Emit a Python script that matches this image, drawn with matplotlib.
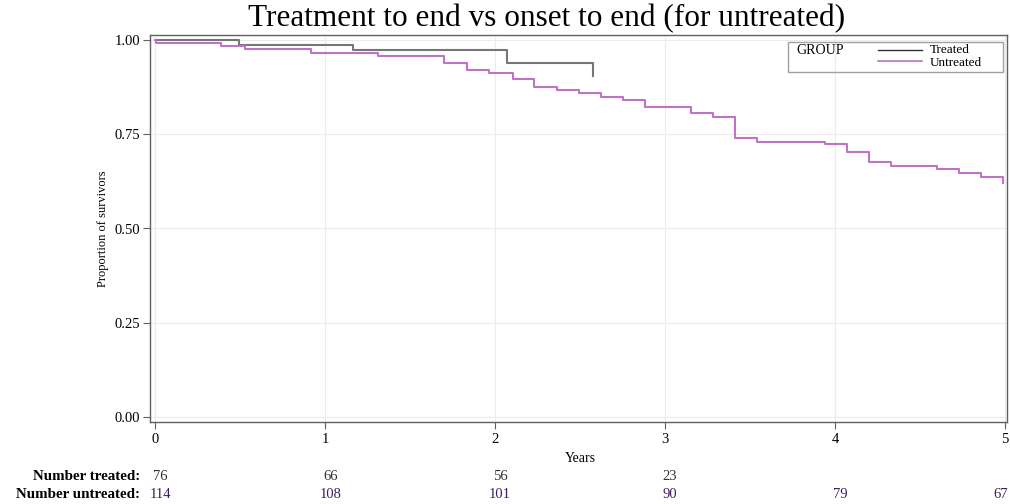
import matplotlib
matplotlib.use("Agg")
import matplotlib.pyplot as plt
import matplotlib.transforms as mtransforms
from matplotlib.lines import Line2D
from matplotlib.patches import Rectangle

plt.rcParams['font.family'] = ['Liberation Serif', 'DejaVu Serif']

# ---- data ----
treated_times = [0.0, 0.496, 1.167, 2.07, 2.575]
treated_surv = [1.0, 0.987, 0.972, 0.939, 0.905]

untreated_times = [0.0, 0.005, 0.386, 0.526, 0.916, 1.314, 1.702, 1.833, 1.967,
                   2.104, 2.231, 2.363, 2.494, 2.624, 2.751, 2.884, 3.151, 3.281,
                   3.412, 3.543, 3.941, 4.071, 4.2, 4.331, 4.598, 4.729, 4.861, 4.99]
untreated_surv = [1.0, 0.991, 0.985, 0.976, 0.966, 0.958, 0.939, 0.921, 0.912,
                  0.896, 0.876, 0.867, 0.859, 0.849, 0.841, 0.821, 0.805, 0.795,
                  0.739, 0.730, 0.723, 0.702, 0.676, 0.667, 0.658, 0.648, 0.637, 0.620]

x_ticks = [0, 1, 2, 3, 4, 5]
y_ticks = [0.0, 0.25, 0.5, 0.75, 1.0]
y_ticklabels = ["0.00", "0.25", "0.50", "0.75", "1.00"]

risk_times_treated = [0, 1, 2, 3]
risk_treated = [76, 66, 56, 23]
risk_times_untreated = [0, 1, 2, 3, 4, 5]
risk_untreated = [114, 108, 101, 90, 79, 67]

title = "Treatment to end vs onset to end (for untreated)"

# ---- figure ----
W, H = 1010, 504
fig = plt.figure(figsize=(W / 100, H / 100), dpi=100)
ax = fig.add_axes([150 / W, 1 - 422 / H, (1007 - 150) / W, (422 - 35) / H])

c_treated = '#767676'
c_untreated = '#c073c6'

ax.plot(treated_times, treated_surv, drawstyle='steps-post', color=c_treated, lw=1.5, zorder=3)
ax.plot(untreated_times, untreated_surv, drawstyle='steps-post', color=c_untreated, lw=1.5, zorder=3)

ax.set_xlim(-0.03, 5.012)
ax.set_ylim(-0.013, 1.013)
ax.set_xticks(x_ticks)
ax.set_xticklabels([str(t) for t in x_ticks])
ax.set_yticks(y_ticks)
ax.set_yticklabels(y_ticklabels)
ax.grid(True, color='#ececec', lw=0.8)
ax.set_axisbelow(True)
for s in ax.spines.values():
    s.set_color('#606060')
    s.set_linewidth(1.0)
ax.tick_params(direction='out', length=5, width=0.8, color='#606060',
               labelsize=10.5)
ax.tick_params(axis='y', pad=2)
ax.tick_params(axis='x', pad=3)

ax.set_ylabel("Proportion of survivors", fontsize=9, labelpad=4)
fig.text(580 / W, 1 - 458 / H, "Years", ha='center', va='center', fontsize=10)
fig.text(547 / W, 1 - 18.5 / H, title, ha='center', va='center', fontsize=22.5)

# ---- legend ----
fig.patches.append(Rectangle((788 / W, 1 - 72 / H), (1003 - 788) / W, (72 - 42) / H,
                             transform=fig.transFigure, fill=False,
                             edgecolor='#a0a0a0', lw=1.0))
fig.text(796 / W, 1 - 51 / H, "GROUP", ha='left', va='center', fontsize=10)
fig.lines.append(Line2D([878 / W, 922 / W], [1 - 50 / H, 1 - 50 / H],
                        transform=fig.transFigure, color='#333333', lw=1.0))
fig.lines.append(Line2D([878 / W, 922 / W], [1 - 61 / H, 1 - 61 / H],
                        transform=fig.transFigure, color=c_untreated, lw=1.2))
fig.text(930 / W, 1 - 50 / H, "Treated", ha='left', va='center', fontsize=9.5)
fig.text(930 / W, 1 - 63.5 / H, "Untreated", ha='left', va='center', fontsize=9.5)

# ---- risk table ----
trans = mtransforms.blended_transform_factory(ax.transData, fig.transFigure)
y1 = 1 - 476 / H
y2 = 1 - 494 / H
fig.text(140 / W, y1, "Number treated:", ha='right', va='center',
         fontsize=10.8, fontweight='bold')
fig.text(140 / W, y2, "Number untreated:", ha='right', va='center',
         fontsize=10.8, fontweight='bold')
for t, n in zip(risk_times_treated, risk_treated):
    ax.text(t + 0.03, y1, str(n), transform=trans, ha='center', va='center',
            fontsize=10.5, color='#333333', clip_on=False)
for i, (t, n) in enumerate(zip(risk_times_untreated, risk_untreated)):
    last = i == len(risk_untreated) - 1
    ax.text(t + (0.02 if last else 0.03), y2, str(n), transform=trans,
            ha='right' if last else 'center', va='center',
            fontsize=10.5, color='#3a1f5c', clip_on=False)

fig.savefig("out.png", dpi=100)
